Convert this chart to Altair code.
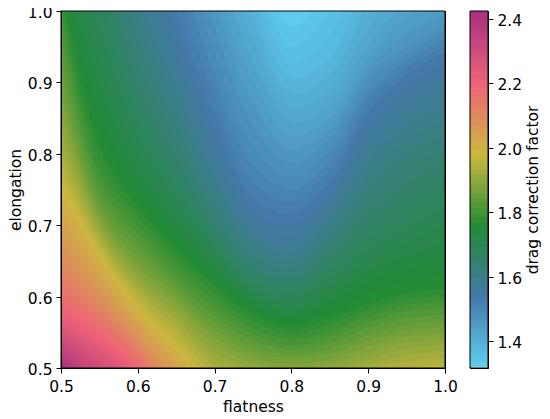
import altair as alt
import pandas as pd

# drag-correction levels of the filled contours (lower edge of each band)
STEP = 0.015
levels = [1.29] + [round(1.32 + STEP * i, 3) for i in range(74)]
flatness = [0.5, 0.55, 0.6, 0.65, 0.7, 0.75, 0.8, 0.85, 0.9, 0.95, 1.0]

# elongation at which each level is reached, per flatness column
top = [2.6]
below = [.44, .435, .43, .425, .42, .415, .41, .405, .40, .395, .39, .385, .38, .375, .37, .365, .36, .355, .35, .345, .34, .335, .33, .325, .32, .315]
col_050 = top + [2.35, 2.30, 2.25, 2.20, 2.15, 2.10, 2.05, 2.0, 1.95, 1.90, 1.85, 1.80, 1.75, 1.70, 1.65, 1.60, 1.55, 1.50, 1.45, 1.40, 1.35, 1.30, 1.25, 1.20, 1.16, 1.135, 1.11, 1.09, 1.07, 1.05, 1.03, 1.015, 1.0, .975, .95, .925, .90, .88, .86, .84, .82, .802, .785, .772, .76, .747, .735, .718, .70, .687, .675, .662, .65, .637, .625, .615, .605, .597, .59, .582, .574, .567, .56, .555, .55, .544, .538, .532, .527, .522, .517, .512, .507, .503]
col_055 = top + [2.18, 2.13, 2.08, 2.03, 1.98, 1.93, 1.88, 1.83, 1.78, 1.73, 1.68, 1.63, 1.58, 1.53, 1.48, 1.43, 1.38, 1.33, 1.28, 1.23, 1.18, 1.135, 1.09, 1.055, 1.02, .975, .93, .895, .86, .835, .81, .79, .772, .758, .745, .733, .722, .713, .705, .697, .69, .682, .675, .667, .66, .651, .642, .633, .624, .615, .606, .598, .591, .584, .577, .57, .563, .556, .55, .543, .536, .529, .523, .516, .509, .502, .495, .488, .482, .475, .468, .461, .455, .45]
col_060 = top + [1.80, 1.76, 1.72, 1.68, 1.64, 1.60, 1.56, 1.52, 1.48, 1.44, 1.40, 1.36, 1.32, 1.27, 1.22, 1.17, 1.12, 1.07, 1.02, .99, .96, .93, .90, .875, .85, .825, .80, .777, .755, .74, .725, .712, .70, .688, .676, .664, .653, .643, .634, .625, .617, .609, .601, .593, .585, .578, .572, .565, .559, .552, .546, .54, .535, .529, .523, .517, .512, .506, .50, .494, .488, .482, .477, .471, .466, .46, .455, .449, .444, .438, .433, .427, .422, .416]
col_065 = top + [1.5, 1.465, 1.43, 1.40, 1.37, 1.335, 1.30, 1.265, 1.23, 1.195, 1.16, 1.12, 1.08, 1.04, 1.0, .972, .945, .917, .89, .866, .842, .818, .795, .775, .755, .738, .722, .706, .69, .677, .665, .654, .643, .631, .62, .611, .603, .594, .586, .577, .568, .558, .549, .539, .53, .522, .515, .507, .50, .492, .485, .477, .47, .462, .455, .447, .44, .435, .43, .425, .42, .415, .41, .405, .40, .395, .39, .385, .38, .375, .37, .365, .36, .355]
col_070 = top + [1.31, 1.275, 1.24, 1.21, 1.18, 1.145, 1.11, 1.077, 1.045, 1.011, .978, .944, .911, .882, .854, .83, .807, .785, .764, .747, .73, .715, .70, .689, .679, .668, .657, .646, .636, .625, .615, .604, .594, .583, .573, .563, .553, .543, .533, .523, .513, .503, .493, .483, .473, .463, .453, .447] + below
col_075 = top + [1.14, 1.11, 1.08, 1.05, 1.02, .99, .96, .93, .90, .87, .84, .811, .784, .759, .736, .719, .704, .692, .681, .669, .658, .648, .639, .63, .622, .614, .606, .598, .59, .582, .575, .565, .556, .547, .539, .53, .522, .514, .507, .50, .493, .485, .478, .47, .463, .455, .448, .444] + below
col_080 = top + [1.01, .978, .95, .928, .907, .885, .864, .844, .825, .806, .787, .768, .75, .733, .717, .701, .686, .672, .659, .649, .639, .63, .622, .614, .606, .597, .589, .58, .572, .563, .555, .547, .54, .532, .525, .519, .513, .506, .5, .493, .487, .48, .474, .467, .46, .453, .447, .444] + below
col_085 = top + [1.07, 1.035, 1.0, .965, .933, .91, .888, .868, .85, .835, .82, .805, .79, .775, .76, .746, .733, .72, .708, .695, .683, .67, .658, .647, .636, .625, .614, .603, .593, .581, .57, .561, .552, .543, .535, .527, .52, .512, .505, .497, .49, .482, .475, .467, .46, .452, .445, .442] + below
col_090 = top + [1.2, 1.16, 1.125, 1.087, 1.05, 1.01, .975, .952, .933, .92, .908, .895, .883, .871, .858, .842, .825, .806, .788, .769, .75, .731, .713, .696, .68, .665, .65, .635, .62, .605, .59, .581, .572, .564, .556, .547, .538, .53, .522, .513, .505, .497, .49, .482, .475, .467, .46, .45] + below
col_095 = top + [1.3, 1.25, 1.2, 1.16, 1.12, 1.08, 1.04, 1.012, .99, .968, .95, .94, .93, .921, .911, .895, .878, .858, .838, .819, .80, .778, .757, .735, .714, .694, .675, .657, .639, .622, .605, .596, .588, .579, .57, .561, .553, .544, .536, .527, .518, .509, .50, .491, .482, .473, .465, .452] + below
col_100 = top + [1.35, 1.30, 1.25, 1.205, 1.16, 1.115, 1.07, 1.04, 1.01, .995, .98, .97, .96, .951, .942, .925, .907, .885, .864, .845, .825, .807, .788, .769, .75, .725, .70, .675, .65, .63, .61, .601, .593, .584, .575, .566, .558, .549, .541, .532, .523, .514, .506, .498, .49, .481, .472, .456] + below
columns = [col_050, col_055, col_060, col_065, col_070, col_075, col_080, col_085, col_090, col_095, col_100]
for c in columns:
    assert len(c) == len(levels), len(c)

cmap_stops = [1.316, 1.538, 1.76, 1.98, 2.2, 2.425]
cmap_colors = ["#5fd0f0", "#4478a8", "#228b35", "#ccb83f", "#ee6377", "#a6307f"]
bar_ticks = [1.4, 1.6, 1.8, 2.0, 2.2, 2.4]
axis_ticks = [0.5, 0.6, 0.7, 0.8, 0.9, 1.0]
BAR_DOMAIN = [1.316, 2.425]
AXIS_DOMAIN = [0.5, 1.0]

rows = []
for i, lev in enumerate(levels):
    for fx, col in zip(flatness, columns):
        rows.append({"level": lev, "mid": lev + STEP / 2, "flatness": fx, "elongation": col[i], "base": 0.5})
iso = pd.DataFrame(rows)
bands = pd.DataFrame({"lo": levels, "hi": [l + STEP for l in levels], "mid": [l + STEP / 2 for l in levels]})

cscale = alt.Scale(domain=cmap_stops, range=cmap_colors, interpolate="rgb", clamp=True)
color = alt.Color("mid:Q", legend=None, scale=cscale)
xscale = alt.Scale(domain=AXIS_DOMAIN, nice=False)
yscale = alt.Scale(domain=AXIS_DOMAIN, nice=False)
bscale = alt.Scale(domain=BAR_DOMAIN, nice=False, zero=False)

areas = alt.Chart(iso).mark_area(interpolate="catmull-rom", clip=True).encode(
    x=alt.X("flatness:Q", scale=xscale, title="flatness",
            axis=alt.Axis(values=axis_ticks, format=".1f", labelFlush=False, labelOverlap=False, zindex=1,
                          labelPadding=6, titlePadding=5)),
    y=alt.Y("elongation:Q", stack=None, scale=yscale, title="elongation",
            axis=alt.Axis(values=axis_ticks, format=".1f", labelFlush=False, labelOverlap=False, zindex=1,
                          labelOffset=1.5, titlePadding=4)),
    y2="base:Q",
    color=color,
    detail="level:N",
)
frame = alt.Chart(pd.DataFrame({"a": [AXIS_DOMAIN[0]], "b": [AXIS_DOMAIN[1]]})).mark_rect(
    fillOpacity=0, stroke="black", strokeWidth=1).encode(
    x=alt.X("a:Q", scale=xscale), x2="b:Q", y=alt.Y("a:Q", scale=yscale), y2="b:Q")
main = alt.layer(areas, frame).properties(width=384, height=357)

bar_rects = alt.Chart(bands).mark_rect(clip=True, strokeWidth=0.8).encode(
    y=alt.Y("lo:Q", scale=bscale, title="drag correction factor",
            axis=alt.Axis(orient="right", values=bar_ticks, format=".1f", labelFlush=False, labelOverlap=False,
                          labelOffset=1.5, titleAngle=270, titleBaseline="top", titlePadding=4, zindex=1)),
    y2="hi:Q",
    color=color,
    stroke=alt.Stroke("mid:Q", legend=None, scale=cscale),
)
bar_frame = alt.Chart(pd.DataFrame({"a": [BAR_DOMAIN[0]], "b": [BAR_DOMAIN[1]]})).mark_rect(
    fillOpacity=0, stroke="black", strokeWidth=1).encode(y=alt.Y("a:Q", scale=bscale), y2="b:Q")
bar = alt.layer(bar_rects, bar_frame).properties(width=18, height=357)

chart = alt.hconcat(main, bar, spacing=11).resolve_scale(color="independent").configure_axis(
    grid=False, labelFont="DejaVu Sans", titleFont="DejaVu Sans", labelFontSize=15.5, titleFontSize=15.5,
    titleFontWeight="normal", labelColor="black", titleColor="black", domainColor="black", tickColor="black",
    tickSize=5, labelPadding=4, titlePadding=3,
).configure_view(stroke="black", strokeWidth=1).properties(
    padding={"left": -1, "top": -3, "right": -1, "bottom": 0},
)

chart.save("out.html", embed_options={"renderer": "svg", "actions": False})
